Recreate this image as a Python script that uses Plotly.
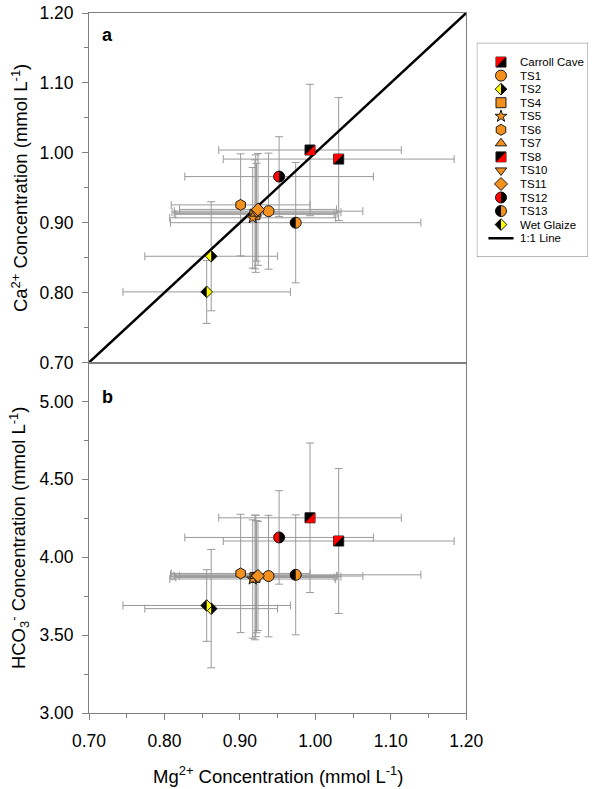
import plotly.graph_objects as go

# ---------------- data ----------------
series = ["Carroll Cave", "TS1", "TS2", "TS4", "TS5", "TS6", "TS7", "TS8",
          "TS10", "TS11", "TS12", "TS13", "Wet Glaize"]
mg = [1.031, 0.938, 0.862, 0.920, 0.917, 0.901, 0.921, 0.993, 0.922, 0.924, 0.952, 0.974, 0.856]
mg_err = [0.153, 0.125, 0.088, 0.105, 0.110, 0.092, 0.108, 0.121, 0.112, 0.104, 0.125, 0.166, 0.111]
ca = [0.991, 0.9165, 0.852, 0.912, 0.907, 0.9255, 0.913, 1.004, 0.915, 0.919, 0.966, 0.900, 0.801]
ca_err = [0.088, 0.083, 0.078, 0.078, 0.072, 0.073, 0.084, 0.094, 0.070, 0.080, 0.057, 0.086, 0.045]
hco3 = [4.104, 3.879, 3.670, 3.870, 3.860, 3.896, 3.880, 4.253, 3.875, 3.880, 4.127, 3.887, 3.690]
hco3_err = [0.465, 0.390, 0.380, 0.400, 0.380, 0.380, 0.390, 0.480, 0.360, 0.350, 0.300, 0.385, 0.230]
one_to_one = [0.70, 1.20]
x_ticks = [0.70, 0.80, 0.90, 1.00, 1.10, 1.20]
ca_ticks = [0.70, 0.80, 0.90, 1.00, 1.10, 1.20]
hco3_ticks = [3.00, 3.50, 4.00, 4.50, 5.00]

# ---------------- styles ----------------
ORANGE = "#F4901E"
RED = "#FF0000"
YELLOW = "#FFFF00"
BLACK = "#000000"
EDGE = "#1a1a1a"
GRAY = "#9a9a9a"
AXIS = "#7f7f7f"
FONT = "Liberation Sans, Arial, sans-serif"

styles = {
    "Carroll Cave": dict(symbol="square", color=BLACK, size=10, half=("sq_ul", RED)),
    "TS1": dict(symbol="circle", color=ORANGE, size=11),
    "TS2": dict(symbol="diamond", color=YELLOW, size=9, half=("dia_r", BLACK)),
    "TS4": dict(symbol="square", color=ORANGE, size=10),
    "TS5": dict(symbol="star", color=ORANGE, size=9),
    "TS6": dict(symbol="hexagon", color=ORANGE, size=11),
    "TS7": dict(symbol="triangle-up", color=ORANGE, size=10),
    "TS8": dict(symbol="square", color=BLACK, size=10, half=("sq_lr", RED)),
    "TS10": dict(symbol="triangle-down", color=ORANGE, size=10),
    "TS11": dict(symbol="diamond", color=ORANGE, size=10),
    "TS12": dict(symbol="circle", color=RED, size=11, half=("circ_r", BLACK)),
    "TS13": dict(symbol="circle", color=ORANGE, size=11, half=("circ_l", BLACK)),
    "Wet Glaize": dict(symbol="diamond", color=YELLOW, size=9, half=("dia_l", BLACK)),
}

K = 0.5523


def half_path(kind, size):
    r = size / 2.0
    if kind.startswith("circ"):
        s = 1 if kind == "circ_r" else -1
        return (f"M0,{r} C{s*K*r},{r} {s*r},{K*r} {s*r},0 "
                f"C{s*r},{-K*r} {s*K*r},{-r} 0,{-r} Z")
    if kind.startswith("dia"):
        R = 1.3 * r
        s = 1 if kind == "dia_r" else -1
        return f"M0,{R} L{s*R},0 L0,{-R} Z"
    h = r
    if kind == "sq_lr":
        return f"M{-h},{-h} L{h},{-h} L{h},{h} Z"
    return f"M{-h},{-h} L{-h},{h} L{h},{h} Z"


def overlay(kind_color, size, x, y, xref, yref):
    kind, col = kind_color
    return dict(type="path", xref=xref, yref=yref, xsizemode="pixel", ysizemode="pixel",
                xanchor=x, yanchor=y, path=half_path(kind, size),
                fillcolor=col, line=dict(width=0), layer="above")


# figure geometry (pixels)
W, H = 609, 789
ML, MR, MT, MB = 89, 3, 10, 76
PW, PH = W - ML - MR, H - MT - MB


def px_to_paper(px, py):
    return (px - ML) / PW, (H - MB - py) / PH


fig = go.Figure()
shapes = []

panels = [("x", "y", ca, ca_err), ("x2", "y2", hco3, hco3_err)]

# error bars first
for xr, yr, yv, ye in panels:
    fig.add_trace(go.Scatter(
        x=mg, y=yv, xaxis=xr, yaxis=yr, mode="markers",
        marker=dict(size=1, opacity=0), hoverinfo="skip",
        error_x=dict(type="data", array=mg_err, color=GRAY, thickness=1, width=4),
        error_y=dict(type="data", array=ye, color=GRAY, thickness=1, width=4)))

# 1:1 line (panel a)
fig.add_trace(go.Scatter(x=one_to_one, y=one_to_one, xaxis="x", yaxis="y", mode="lines",
                         line=dict(color=BLACK, width=2.5), hoverinfo="skip"))

# markers
for xr, yr, yv, ye in panels:
    for i, name in enumerate(series):
        st = styles[name]
        fig.add_trace(go.Scatter(
            x=[mg[i]], y=[yv[i]], xaxis=xr, yaxis=yr, mode="markers", name=name,
            marker=dict(symbol=st["symbol"], color=st["color"], size=st["size"],
                        line=dict(color=EDGE, width=1))))
        if "half" in st:
            shapes.append(overlay(st["half"], st["size"], mg[i], yv[i], xr, yr))

# ---------------- custom legend (own hidden axes, pixel-like ranges) ----------------
leg_left, leg_right, leg_top, leg_bottom = 490, 605, 40, 255
icon_x, text_x, row0, drow = 515, 533, 59.3, 13.6
annotations = []
legend_labels = series + ["1:1 Line"]
for i, name in enumerate(legend_labels):
    yy = row0 + i * drow
    if name in styles:
        st = styles[name]
        fig.add_trace(go.Scatter(
            x=[icon_x], y=[yy], xaxis="x3", yaxis="y3", mode="markers",
            marker=dict(symbol=st["symbol"], color=st["color"], size=st["size"],
                        line=dict(color=EDGE, width=1)), hoverinfo="skip"))
        if "half" in st:
            shapes.append(overlay(st["half"], st["size"], icon_x, yy, "x3", "y3"))
    else:
        fig.add_trace(go.Scatter(x=[icon_x - 13, icon_x + 13], y=[yy, yy], xaxis="x3",
                                 yaxis="y3", mode="lines", line=dict(color=BLACK, width=2.5),
                                 hoverinfo="skip"))
    ax, ay = px_to_paper(text_x, yy)
    annotations.append(dict(x=ax, y=ay, xref="paper", yref="paper", text=name, showarrow=False,
                            xanchor="left", yanchor="middle", font=dict(size=11.5, color=BLACK)))
shapes.append(dict(type="rect", xref="x3", yref="y3", x0=leg_left, x1=leg_right,
                   y0=leg_top, y1=leg_bottom, line=dict(color=AXIS, width=1), layer="below"))

# panel letters and axis titles
annotations += [
    dict(x=0.049, y=0.937, xref="x domain", yref="y domain", text="<b>a</b>", showarrow=False,
         font=dict(size=18, color=BLACK), xanchor="center", yanchor="middle"),
    dict(x=0.049, y=0.903, xref="x2 domain", yref="y2 domain", text="<b>b</b>", showarrow=False,
         font=dict(size=18, color=BLACK), xanchor="center", yanchor="middle"),
    dict(x=(17 - ML) / PW, y=0.5, xref="paper", yref="y domain", textangle=-90,
         showarrow=False, text="Ca<sup>2+</sup> Concentration (mmol L<sup>-1</sup>)",
         font=dict(size=18.5, color=BLACK), xanchor="center", yanchor="middle"),
    dict(x=(17 - ML) / PW, y=0.5, xref="paper", yref="y2 domain", textangle=-90,
         showarrow=False,
         text="HCO<sub>3</sub><sup>-</sup> Concentration (mmol L<sup>-1</sup>)",
         font=dict(size=18.5, color=BLACK), xanchor="center", yanchor="middle"),
    dict(x=0.5, y=-0.088, xref="x2 domain", yref="paper", showarrow=False,
         text="Mg<sup>2+</sup> Concentration (mmol L<sup>-1</sup>)",
         font=dict(size=18.5, color=BLACK), xanchor="center", yanchor="middle"),
]

XD = 390 / PW
common = dict(showline=True, linecolor=AXIS, linewidth=1, mirror=True, showgrid=False,
              zeroline=False, tickcolor=AXIS, ticklen=6, tickwidth=1,
              tickfont=dict(size=17.5, color=BLACK, family=FONT))
lx0, _ = px_to_paper(leg_left, 0)
lx1, _ = px_to_paper(leg_right, 0)
_, ly0 = px_to_paper(0, leg_bottom)
_, ly1 = px_to_paper(0, leg_top)
fig.update_layout(
    width=W, height=H, margin=dict(l=ML, r=MR, t=MT, b=MB),
    plot_bgcolor="white", paper_bgcolor="white", showlegend=False,
    font=dict(family=FONT, color=BLACK),
    xaxis=dict(domain=[0, XD], anchor="y", range=[0.7, 1.2], showticklabels=False,
               ticks="", **{k: v for k, v in common.items() if k not in ("ticklen",)}),
    yaxis=dict(domain=[352 / PH, 1], anchor="x", range=[0.7, 1.2], tickvals=ca_ticks,
               tickformat=".2f", ticks="outside", ticklabelstandoff=5,
               minor=dict(dtick=0.05, tick0=0.7, ticks="outside", ticklen=4, tickcolor=AXIS),
               **common),
    xaxis2=dict(domain=[0, XD], anchor="y2", range=[0.7, 1.2], tickvals=x_ticks,
                tickformat=".2f", ticks="outside", ticklabelstandoff=6,
                minor=dict(dtick=0.05, tick0=0.7, ticks="outside", ticklen=4, tickcolor=AXIS),
                **common),
    yaxis2=dict(domain=[0, 352 / PH], anchor="x2", range=[3.0, 5.25], tickvals=hco3_ticks,
                tickformat=".2f", ticks="outside", ticklabelstandoff=5,
                minor=dict(dtick=0.25, tick0=3.0, ticks="outside", ticklen=4, tickcolor=AXIS),
                **common),
    xaxis3=dict(domain=[lx0, lx1], anchor="y3", range=[leg_left, leg_right],
                visible=False, fixedrange=True),
    yaxis3=dict(domain=[ly0, ly1], anchor="x3",
                range=[leg_bottom, leg_top], visible=False, fixedrange=True),
    shapes=shapes, annotations=annotations,
)

# remove the browser's default 8px page margin so the figure sits at the window origin
fig.write_html("out.html", config={"displayModeBar": False},
               post_script="document.body.style.margin='0px';")
